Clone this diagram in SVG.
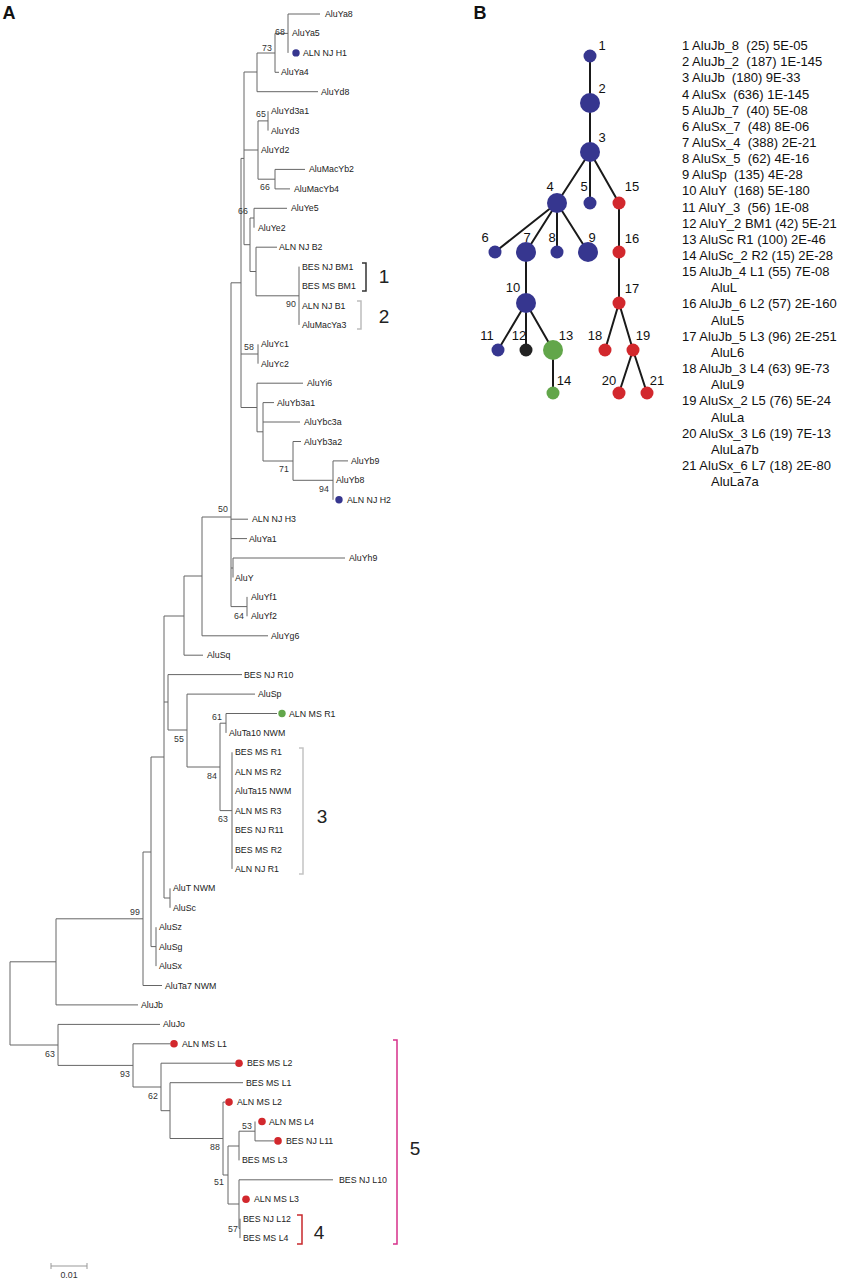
<svg xmlns="http://www.w3.org/2000/svg" width="845" height="1280" viewBox="0 0 845 1280">
<style>
.br{fill:none;stroke:#666;stroke-width:1}
.lb{font-family:"Liberation Sans",Arial,sans-serif;font-size:8.8px;fill:#222}
.bs{font-family:"Liberation Sans",Arial,sans-serif;font-size:8.8px;fill:#333;text-anchor:middle}
.pl{font-family:"Liberation Sans",Arial,sans-serif;font-size:18px;font-weight:bold;fill:#111;text-anchor:middle}
.bn{font-family:"Liberation Sans",Arial,sans-serif;font-size:19px;fill:#222;text-anchor:middle}
.nl{font-family:"Liberation Sans",Arial,sans-serif;font-size:13px;fill:#111;text-anchor:middle}
.lg{font-family:"Liberation Sans",Arial,sans-serif;font-size:13px;fill:#111;white-space:pre}
.ed{stroke:#1a1a1a;stroke-width:2;fill:none}
.blue{fill:#36368f}.red{fill:#d2282d}.green{fill:#62a64a}.blk{fill:#222}
</style>
<rect width="845" height="1280" fill="#fff"/>
<text class="pl" x="9" y="19">A</text>
<text class="pl" x="480" y="19">B</text>

<g id="branches">
<path class="br" d="M10,961.8V1045 M10,961.8H56 M56,918.8V1004.9 M56,1004.9H138
M56,918.8H143 M143,852V985.5 M143,985.5H162
M143,852H151 M151,757V946.6 M151,946.6H156 M156,927.2V966.1
M151,757H164 M164,616V898 M164,898H170 M170,888.4V907.8
M164,702H168 M168,674.6V730 M168,674.6H242
M168,730H187 M187,694.1V767 M187,694.1H255
M187,767H220 M220,723.2V810.6
M220,723.2H226 M226,713.5V732.9 M226,713.5H277
M220,810.6H232 M232,752.3V868.9
M164,616H184 M184,576V655.2 M184,655.2H203
M184,576H202 M202,517V635.8 M202,635.8H268
M202,517H231 M231,282.8V606.6
M231,519.2H248 M231,538.6H247
M231,568H233 M233,558V577.5 M233,558H345
M231,606.6H247 M247,596.9V616.3
M231,282.8H241 M241,158.4V407.5
M241,158.4H244 M244,72V244.7
M244,72H257 M257,53V91.7 M257,91.7H318
M257,53H275 M275,33.4V72.3 M275,72.3H279
M275,33.4H288 M288,14V52.9 M288,14H320
M244,150H258 M258,120.9V179.2
M258,120.9H268 M268,111.2V130.6
M258,179.2H275 M275,169.4V188.9 M275,169.4H305 M275,188.9H290
M244,244.7H250 M250,218V271.5
M250,218H254 M254,208.3V227.7 M254,208.3H287
M250,271.5H256 M256,247.2V295.8 M256,247.2H277
M256,295.8H299 M299,266.6V324.9
M241,354H258 M258,344.3V363.7
M241,407.5H257 M257,383.2V431.8 M257,383.2H303
M257,431.8H263 M263,402.6V461 M263,402.6H274 M263,422H300
M263,461H293 M293,441.5V480.3 M293,441.5H301
M293,480.3H333 M333,460.9V499.8 M333,460.9H348
M10,1045H58 M58,1024.4V1065.4 M58,1024.4H160
M58,1065.4H133 M133,1043.8V1087 M133,1043.8H170
M133,1087H161 M161,1063.2V1110.7 M161,1063.2H235
M161,1110.7H170 M170,1082.7V1138.5 M170,1082.7H243
M170,1138.5H223 M223,1102.1V1175 M223,1102.1H225
M223,1175H228 M228,1146V1204
M228,1146H239 M239,1131.2V1160.4
M239,1131.2H255 M255,1121.5V1140.9 M255,1140.9H274
M228,1204H239 M239,1179.8V1228.4 M239,1179.8H333
M239,1228.4H240 M240,1218.7V1238.1"/>
</g>

<g id="bootstrap">
<text class="bs" x="280" y="35">68</text>
<text class="bs" x="267" y="51">73</text>
<text class="bs" x="261" y="117">65</text>
<text class="bs" x="265" y="190">66</text>
<text class="bs" x="243" y="214">66</text>
<text class="bs" x="291" y="307">90</text>
<text class="bs" x="249" y="350">58</text>
<text class="bs" x="284" y="472">71</text>
<text class="bs" x="324" y="492">94</text>
<text class="bs" x="223" y="512">50</text>
<text class="bs" x="239" y="619">64</text>
<text class="bs" x="217" y="720">61</text>
<text class="bs" x="179" y="742">55</text>
<text class="bs" x="212" y="779">84</text>
<text class="bs" x="223" y="822">63</text>
<text class="bs" x="135" y="915">99</text>
<text class="bs" x="50" y="1057">63</text>
<text class="bs" x="125" y="1077">93</text>
<text class="bs" x="153" y="1099">62</text>
<text class="bs" x="215" y="1150">88</text>
<text class="bs" x="247" y="1129">53</text>
<text class="bs" x="219" y="1185">51</text>
<text class="bs" x="233" y="1232">57</text>
</g>

<g id="leaves">
<g id="l-AluYa8"><text class="lb" x="325" y="17">AluYa8</text></g>
<g id="l-AluYa5"><text class="lb" x="292" y="36.4">AluYa5</text></g>
<g id="l-ALNNJH1"><circle class="blue" cx="296" cy="52.9" r="3.7"/><text class="lb" x="303" y="55.9">ALN NJ H1</text></g>
<g id="l-AluYa4"><text class="lb" x="281" y="75.3">AluYa4</text></g>
<g id="l-AluYd8"><text class="lb" x="321" y="94.7">AluYd8</text></g>
<g id="l-AluYd3a1"><text class="lb" x="271" y="114.2">AluYd3a1</text></g>
<g id="l-AluYd3"><text class="lb" x="271" y="133.6">AluYd3</text></g>
<g id="l-AluYd2"><text class="lb" x="261" y="153">AluYd2</text></g>
<g id="l-AluMacYb2"><text class="lb" x="309" y="172.4">AluMacYb2</text></g>
<g id="l-AluMacYb4"><text class="lb" x="294" y="191.9">AluMacYb4</text></g>
<g id="l-AluYe5"><text class="lb" x="291" y="211.3">AluYe5</text></g>
<g id="l-AluYe2"><text class="lb" x="258" y="230.7">AluYe2</text></g>
<g id="l-ALNNJB2"><text class="lb" x="279" y="250.2">ALN NJ B2</text></g>
<g id="l-BESNJBM1"><text class="lb" x="302" y="269.6">BES NJ BM1</text></g>
<g id="l-BESMSBM1"><text class="lb" x="302" y="289">BES MS BM1</text></g>
<g id="l-ALNNJB1"><text class="lb" x="302" y="308.5">ALN NJ B1</text></g>
<g id="l-AluMacYa3"><text class="lb" x="302" y="327.9">AluMacYa3</text></g>
<g id="l-AluYc1"><text class="lb" x="261" y="347.3">AluYc1</text></g>
<g id="l-AluYc2"><text class="lb" x="261" y="366.7">AluYc2</text></g>
<g id="l-AluYi6"><text class="lb" x="307" y="386.2">AluYi6</text></g>
<g id="l-AluYb3a1"><text class="lb" x="277" y="405.6">AluYb3a1</text></g>
<g id="l-AluYbc3a"><text class="lb" x="304" y="425">AluYbc3a</text></g>
<g id="l-AluYb3a2"><text class="lb" x="304" y="444.5">AluYb3a2</text></g>
<g id="l-AluYb9"><text class="lb" x="351" y="463.9">AluYb9</text></g>
<g id="l-AluYb8"><text class="lb" x="336" y="483.3">AluYb8</text></g>
<g id="l-ALNNJH2"><circle class="blue" cx="339" cy="499.8" r="3.7"/><text class="lb" x="347" y="502.8">ALN NJ H2</text></g>
<g id="l-ALNNJH3"><text class="lb" x="252" y="522.2">ALN NJ H3</text></g>
<g id="l-AluYa1"><text class="lb" x="249" y="541.6">AluYa1</text></g>
<g id="l-AluYh9"><text class="lb" x="349" y="561">AluYh9</text></g>
<g id="l-AluY"><text class="lb" x="235" y="580.5">AluY</text></g>
<g id="l-AluYf1"><text class="lb" x="251" y="599.9">AluYf1</text></g>
<g id="l-AluYf2"><text class="lb" x="251" y="619.3">AluYf2</text></g>
<g id="l-AluYg6"><text class="lb" x="271" y="638.8">AluYg6</text></g>
<g id="l-AluSq"><text class="lb" x="207" y="658.2">AluSq</text></g>
<g id="l-BESNJR10"><text class="lb" x="244" y="677.6">BES NJ R10</text></g>
<g id="l-AluSp"><text class="lb" x="258" y="697.1">AluSp</text></g>
<g id="l-ALNMSR1"><circle class="green" cx="282" cy="713.5" r="3.7"/><text class="lb" x="289" y="716.5">ALN MS R1</text></g>
<g id="l-AluTa10NWM"><text class="lb" x="229" y="735.9">AluTa10 NWM</text></g>
<g id="l-BESMSR1"><text class="lb" x="235" y="755.3">BES MS R1</text></g>
<g id="l-ALNMSR2"><text class="lb" x="235" y="774.8">ALN MS R2</text></g>
<g id="l-AluTa15NWM"><text class="lb" x="235" y="794.2">AluTa15 NWM</text></g>
<g id="l-ALNMSR3"><text class="lb" x="235" y="813.6">ALN MS R3</text></g>
<g id="l-BESNJR11"><text class="lb" x="235" y="833.1">BES NJ R11</text></g>
<g id="l-BESMSR2"><text class="lb" x="235" y="852.5">BES MS R2</text></g>
<g id="l-ALNNJR1"><text class="lb" x="235" y="871.9">ALN NJ R1</text></g>
<g id="l-AluTNWM"><text class="lb" x="173" y="891.4">AluT NWM</text></g>
<g id="l-AluSc"><text class="lb" x="173" y="910.8">AluSc</text></g>
<g id="l-AluSz"><text class="lb" x="159" y="930.2">AluSz</text></g>
<g id="l-AluSg"><text class="lb" x="159" y="949.6">AluSg</text></g>
<g id="l-AluSx"><text class="lb" x="159" y="969.1">AluSx</text></g>
<g id="l-AluTa7NWM"><text class="lb" x="165" y="988.5">AluTa7 NWM</text></g>
<g id="l-AluJb"><text class="lb" x="141" y="1007.9">AluJb</text></g>
<g id="l-AluJo"><text class="lb" x="163" y="1027.4">AluJo</text></g>
<g id="l-ALNMSL1"><circle class="red" cx="174" cy="1043.8" r="3.8"/><text class="lb" x="182" y="1046.8">ALN MS L1</text></g>
<g id="l-BESMSL2"><circle class="red" cx="239" cy="1063.2" r="3.8"/><text class="lb" x="247" y="1066.2">BES MS L2</text></g>
<g id="l-BESMSL1"><text class="lb" x="246" y="1085.7">BES MS L1</text></g>
<g id="l-ALNMSL2"><circle class="red" cx="229" cy="1102.1" r="3.8"/><text class="lb" x="237" y="1105.1">ALN MS L2</text></g>
<g id="l-ALNMSL4"><circle class="red" cx="262" cy="1121.5" r="3.8"/><text class="lb" x="269" y="1124.5">ALN MS L4</text></g>
<g id="l-BESNJL11"><circle class="red" cx="278" cy="1140.9" r="3.8"/><text class="lb" x="286" y="1143.9">BES NJ L11</text></g>
<g id="l-BESMSL3"><text class="lb" x="242" y="1163.4">BES MS L3</text></g>
<g id="l-BESNJL10"><text class="lb" x="339" y="1182.8">BES NJ L10</text></g>
<g id="l-ALNMSL3"><circle class="red" cx="246" cy="1199.2" r="3.8"/><text class="lb" x="254" y="1202.2">ALN MS L3</text></g>
<g id="l-BESNJL12"><text class="lb" x="243" y="1221.7">BES NJ L12</text></g>
<g id="l-BESMSL4"><text class="lb" x="243" y="1241.1">BES MS L4</text></g>
</g>

<g id="brackets">
<path d="M362,263H366V291H362" fill="none" stroke="#333" stroke-width="1.5"/>
<text class="bn" x="384" y="283">1</text>
<path d="M357,301H361V329H357" fill="none" stroke="#bdbdbd" stroke-width="1.5"/>
<text class="bn" x="384" y="323">2</text>
<path d="M299,748H303V874H299" fill="none" stroke="#c4c4c4" stroke-width="1.5"/>
<text class="bn" x="322" y="823">3</text>
<path d="M297,1215H302V1244H297" fill="none" stroke="#c8282d" stroke-width="1.5"/>
<text class="bn" x="319" y="1239">4</text>
<path d="M393,1040H397V1244H393" fill="none" stroke="#d6318a" stroke-width="1.5"/>
<text class="bn" x="415" y="1155">5</text>
</g>

<g id="scalebar">
<path d="M51,1266H87 M51,1263V1269 M87,1263V1269" fill="none" stroke="#999" stroke-width="1"/>
<text class="bs" x="69" y="1278">0.01</text>
</g>

<g id="network-edges">
<path class="ed" d="M590,56L590,103 M590,103L590,152 M590,152L557,203 M590,152L590,203 M590,152L619,203
M557,203L495,252 M557,203L526,252 M557,203L557,252 M557,203L588,252
M526,252L526,303 M526,303L498,350 M526,303L526,350 M526,303L553,350 M553,350L553,393
M619,203L619,252 M619,252L619,303 M619,303L605,350 M619,303L633,350 M633,350L619,393 M633,350L647,393"/>
</g>

<g id="network-nodes">
<g id="n1"><circle class="blue" cx="590" cy="56" r="6.5"/><text class="nl" x="602" y="50">1</text></g>
<g id="n2"><circle class="blue" cx="590" cy="103" r="10"/><text class="nl" x="602" y="93">2</text></g>
<g id="n3"><circle class="blue" cx="590" cy="152" r="10"/><text class="nl" x="602" y="142">3</text></g>
<g id="n4"><circle class="blue" cx="557" cy="203" r="10"/><text class="nl" x="550" y="191">4</text></g>
<g id="n5"><circle class="blue" cx="590" cy="203" r="6.5"/><text class="nl" x="584" y="191">5</text></g>
<g id="n6"><circle class="blue" cx="495" cy="252" r="6.5"/><text class="nl" x="485" y="242">6</text></g>
<g id="n7"><circle class="blue" cx="526" cy="252" r="10"/><text class="nl" x="527" y="242">7</text></g>
<g id="n8"><circle class="blue" cx="557" cy="252" r="6.5"/><text class="nl" x="552" y="242">8</text></g>
<g id="n9"><circle class="blue" cx="588" cy="252" r="10"/><text class="nl" x="592" y="242">9</text></g>
<g id="n10"><circle class="blue" cx="526" cy="303" r="10"/><text class="nl" x="513" y="292">10</text></g>
<g id="n11"><circle class="blue" cx="498" cy="350" r="6.5"/><text class="nl" x="487" y="340">11</text></g>
<g id="n12"><circle class="blk" cx="526" cy="350" r="6.5"/><text class="nl" x="519" y="340">12</text></g>
<g id="n13"><circle class="green" cx="553" cy="350" r="10"/><text class="nl" x="566" y="340">13</text></g>
<g id="n14"><circle class="green" cx="553" cy="393" r="6.5"/><text class="nl" x="564" y="385">14</text></g>
<g id="n15"><circle class="red" cx="619" cy="203" r="6.5"/><text class="nl" x="632" y="191">15</text></g>
<g id="n16"><circle class="red" cx="619" cy="252" r="6.5"/><text class="nl" x="632" y="243">16</text></g>
<g id="n17"><circle class="red" cx="619" cy="303" r="6.5"/><text class="nl" x="632" y="293">17</text></g>
<g id="n18"><circle class="red" cx="605" cy="350" r="6.5"/><text class="nl" x="595" y="340">18</text></g>
<g id="n19"><circle class="red" cx="633" cy="350" r="6.5"/><text class="nl" x="643" y="340">19</text></g>
<g id="n20"><circle class="red" cx="619" cy="393" r="6.5"/><text class="nl" x="609" y="385">20</text></g>
<g id="n21"><circle class="red" cx="647" cy="393" r="6.5"/><text class="nl" x="657" y="385">21</text></g>
</g>

<g id="legend">
<text class="lg" x="682" y="50" xml:space="preserve">1 AluJb_8  (25) 5E-05</text>
<text class="lg" x="682" y="66.2" xml:space="preserve">2 AluJb_2  (187) 1E-145</text>
<text class="lg" x="682" y="82.3" xml:space="preserve">3 AluJb  (180) 9E-33</text>
<text class="lg" x="682" y="98.5" xml:space="preserve">4 AluSx  (636) 1E-145</text>
<text class="lg" x="682" y="114.6" xml:space="preserve">5 AluJb_7  (40) 5E-08</text>
<text class="lg" x="682" y="130.8" xml:space="preserve">6 AluSx_7  (48) 8E-06</text>
<text class="lg" x="682" y="146.9" xml:space="preserve">7 AluSx_4  (388) 2E-21</text>
<text class="lg" x="682" y="163.1" xml:space="preserve">8 AluSx_5  (62) 4E-16</text>
<text class="lg" x="682" y="179.2" xml:space="preserve">9 AluSp  (135) 4E-28</text>
<text class="lg" x="682" y="195.4" xml:space="preserve">10 AluY  (168) 5E-180</text>
<text class="lg" x="682" y="211.5" xml:space="preserve">11 AluY_3  (56) 1E-08</text>
<text class="lg" x="682" y="227.7">12 AluY_2 BM1 (42) 5E-21</text>
<text class="lg" x="682" y="243.8">13 AluSc R1 (100) 2E-46</text>
<text class="lg" x="682" y="260">14 AluSc_2 R2 (15) 2E-28</text>
<text class="lg" x="682" y="276.1">15 AluJb_4 L1 (55) 7E-08</text>
<text class="lg" x="711" y="292.3">AluL</text>
<text class="lg" x="682" y="308.4">16 AluJb_6 L2 (57) 2E-160</text>
<text class="lg" x="711" y="324.6">AluL5</text>
<text class="lg" x="682" y="340.7">17 AluJb_5 L3 (96) 2E-251</text>
<text class="lg" x="711" y="356.9">AluL6</text>
<text class="lg" x="682" y="373">18 AluJb_3 L4 (63) 9E-73</text>
<text class="lg" x="711" y="389.2">AluL9</text>
<text class="lg" x="682" y="405.3">19 AluSx_2 L5 (76) 5E-24</text>
<text class="lg" x="711" y="421.5">AluLa</text>
<text class="lg" x="682" y="437.6">20 AluSx_3 L6 (19) 7E-13</text>
<text class="lg" x="711" y="453.8">AluLa7b</text>
<text class="lg" x="682" y="469.9">21 AluSx_6 L7 (18) 2E-80</text>
<text class="lg" x="711" y="486.1">AluLa7a</text>
</g>
</svg>
